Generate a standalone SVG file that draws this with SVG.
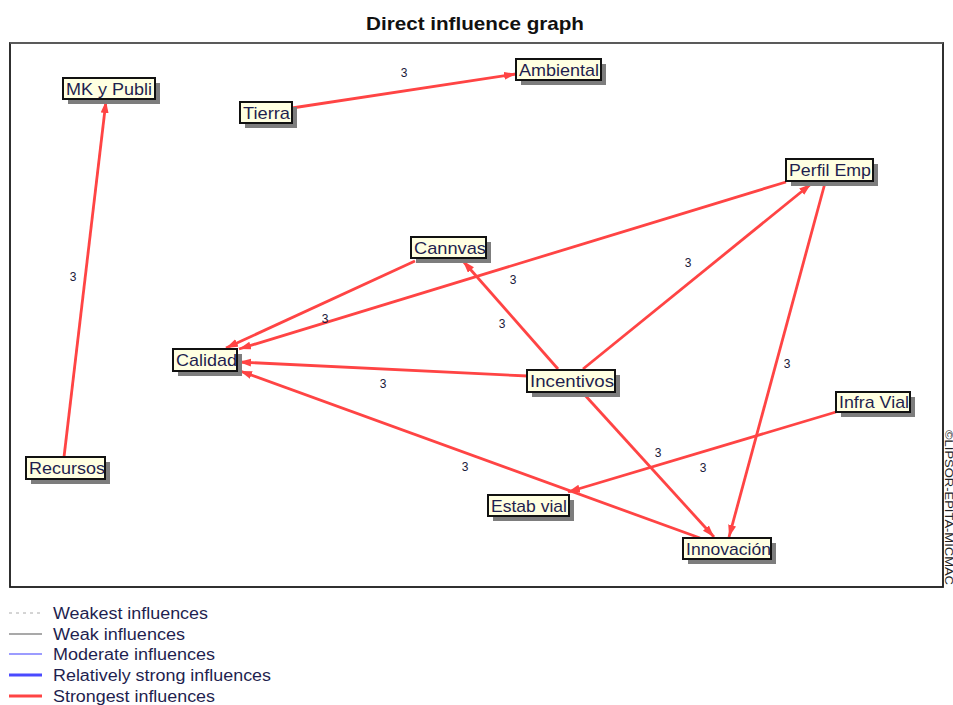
<svg xmlns="http://www.w3.org/2000/svg" width="953" height="705" viewBox="0 0 953 705">
  <style>
    .title { font: bold 19px "Liberation Sans", Arial, sans-serif; fill: #111; }
    .box { fill: #ffffe1; stroke: #111; stroke-width: 2; }
    .shadow { fill: #7d7d7d; }
    .lbl { font: 17px "Liberation Sans", Arial, sans-serif; fill: #1f1f4f; }
    .edge { stroke: #ff4444; stroke-width: 2.8; fill: none; marker-end: url(#arrow); }
    .val { font: 12px "Liberation Sans", Arial, sans-serif; fill: #1a1a3a; text-anchor: middle; }
    .legend { font: 16px "Liberation Sans", Arial, sans-serif; fill: #1f1f4f; }
    .credit { font: 10px "Liberation Sans", Arial, sans-serif; fill: #222; }
  </style>
  <defs>
    <marker id="arrow" markerUnits="userSpaceOnUse" markerWidth="13" markerHeight="9" refX="12" refY="4" orient="auto">
      <path d="M0,0 L12,4 L0,8 z" fill="#ff4444"/>
    </marker>
  </defs>

  <rect width="953" height="705" fill="#ffffff"/>

  <text class="title" x="366" y="30" textLength="218" lengthAdjust="spacingAndGlyphs">Direct influence graph</text>

  <!-- plot frame -->
  <rect x="10" y="43" width="933" height="544" fill="#ffffff" stroke="#1a1a1a" stroke-width="1.8"/>
  <line x1="10" y1="43" x2="943" y2="43" stroke="#6a6a6a" stroke-width="1.5"/>

  <!-- connectors -->
  <g id="connectors">
    <line class="edge" x1="64" y1="457" x2="106" y2="101"/>
    <line class="edge" x1="292" y1="108" x2="516" y2="74"/>
    <line class="edge" x1="786" y1="182" x2="239" y2="349"/>
    <line class="edge" x1="415" y1="261" x2="226" y2="348"/>
    <line class="edge" x1="558" y1="369" x2="463" y2="261"/>
    <line class="edge" x1="583" y1="369" x2="811" y2="184"/>
    <line class="edge" x1="528" y1="376" x2="239" y2="362"/>
    <line class="edge" x1="825" y1="183" x2="729" y2="537"/>
    <line class="edge" x1="583" y1="393" x2="714" y2="537"/>
    <line class="edge" x1="836" y1="412" x2="568" y2="492"/>
    <line class="edge" x1="700" y1="538" x2="240" y2="371"/>

    <text class="val" x="404" y="77">3</text>
    <text class="val" x="73" y="281">3</text>
    <text class="val" x="688" y="267">3</text>
    <text class="val" x="513" y="284">3</text>
    <text class="val" x="325" y="323">3</text>
    <text class="val" x="502" y="328">3</text>
    <text class="val" x="383" y="388">3</text>
    <text class="val" x="787" y="368">3</text>
    <text class="val" x="658" y="457">3</text>
    <text class="val" x="703" y="472">3</text>
    <text class="val" x="465" y="471">3</text>
  </g>

  <!-- nodes -->
  <g id="mk-y-publi">
    <rect class="shadow" x="68" y="83" width="92" height="21"/>
    <rect class="box" x="63" y="78" width="92" height="21"/>
    <text class="lbl" x="66" y="95" textLength="86" lengthAdjust="spacingAndGlyphs">MK y Publi</text>
  </g>
  <g id="tierra">
    <rect class="shadow" x="245" y="107" width="52" height="21"/>
    <rect class="box" x="240" y="102" width="52" height="21"/>
    <text class="lbl" x="243" y="119" textLength="47" lengthAdjust="spacingAndGlyphs">Tierra</text>
  </g>
  <g id="ambiental">
    <rect class="shadow" x="521" y="64" width="85" height="21"/>
    <rect class="box" x="516" y="59" width="85" height="21"/>
    <text class="lbl" x="519" y="76" textLength="80" lengthAdjust="spacingAndGlyphs">Ambiental</text>
  </g>
  <g id="perfil-emp">
    <rect class="shadow" x="791" y="164" width="87" height="22"/>
    <rect class="box" x="786" y="159" width="87" height="22"/>
    <text class="lbl" x="789" y="176" textLength="82" lengthAdjust="spacingAndGlyphs">Perfil Emp</text>
  </g>
  <g id="cannvas">
    <rect class="shadow" x="416" y="242" width="75" height="21"/>
    <rect class="box" x="411" y="237" width="75" height="21"/>
    <text class="lbl" x="414" y="254" textLength="72" lengthAdjust="spacingAndGlyphs">Cannvas</text>
  </g>
  <g id="calidad">
    <rect class="shadow" x="178" y="354" width="64" height="22"/>
    <rect class="box" x="173" y="349" width="64" height="22"/>
    <text class="lbl" x="176" y="366" textLength="61" lengthAdjust="spacingAndGlyphs">Calidad</text>
  </g>
  <g id="incentivos">
    <rect class="shadow" x="532" y="375" width="88" height="22"/>
    <rect class="box" x="527" y="370" width="88" height="22"/>
    <text class="lbl" x="530" y="387" textLength="84" lengthAdjust="spacingAndGlyphs">Incentivos</text>
  </g>
  <g id="infra-vial">
    <rect class="shadow" x="841" y="397" width="74" height="20"/>
    <rect class="box" x="836" y="392" width="74" height="20"/>
    <text class="lbl" x="839" y="408" textLength="70" lengthAdjust="spacingAndGlyphs">Infra Vial</text>
  </g>
  <g id="recursos">
    <rect class="shadow" x="31" y="462" width="79" height="22"/>
    <rect class="box" x="26" y="457" width="79" height="22"/>
    <text class="lbl" x="29" y="474" textLength="76" lengthAdjust="spacingAndGlyphs">Recursos</text>
  </g>
  <g id="estab-vial">
    <rect class="shadow" x="493" y="500" width="81" height="21"/>
    <rect class="box" x="488" y="495" width="81" height="21"/>
    <text class="lbl" x="491" y="512" textLength="76" lengthAdjust="spacingAndGlyphs">Estab vial</text>
  </g>
  <g id="innovacion">
    <rect class="shadow" x="688" y="543" width="88" height="21"/>
    <rect class="box" x="683" y="538" width="88" height="21"/>
    <text class="lbl" x="686" y="555" textLength="85" lengthAdjust="spacingAndGlyphs">Innovación</text>
  </g>

  <!-- side credit -->
  <text class="credit" transform="translate(945,430) rotate(90)" textLength="155" lengthAdjust="spacingAndGlyphs">©LIPSOR-EPITA-MICMAC</text>

  <!-- legend -->
  <g id="legend">
    <line x1="9" y1="613" x2="42" y2="613" stroke="#aaaaaa" stroke-width="1" stroke-dasharray="3,4"/>
    <text class="legend" x="53" y="619" textLength="155" lengthAdjust="spacingAndGlyphs">Weakest influences</text>
    <line x1="9" y1="634" x2="42" y2="634" stroke="#555555" stroke-width="1.2"/>
    <text class="legend" x="53" y="640" textLength="132" lengthAdjust="spacingAndGlyphs">Weak influences</text>
    <line x1="9" y1="654" x2="42" y2="654" stroke="#3a3aff" stroke-width="1.2"/>
    <text class="legend" x="53" y="660" textLength="162" lengthAdjust="spacingAndGlyphs">Moderate influences</text>
    <line x1="9" y1="675" x2="42" y2="675" stroke="#4a4aff" stroke-width="3"/>
    <text class="legend" x="53" y="681" textLength="218" lengthAdjust="spacingAndGlyphs">Relatively strong influences</text>
    <line x1="9" y1="696" x2="42" y2="696" stroke="#ff4444" stroke-width="3"/>
    <text class="legend" x="53" y="702" textLength="162" lengthAdjust="spacingAndGlyphs">Strongest influences</text>
  </g>
</svg>
